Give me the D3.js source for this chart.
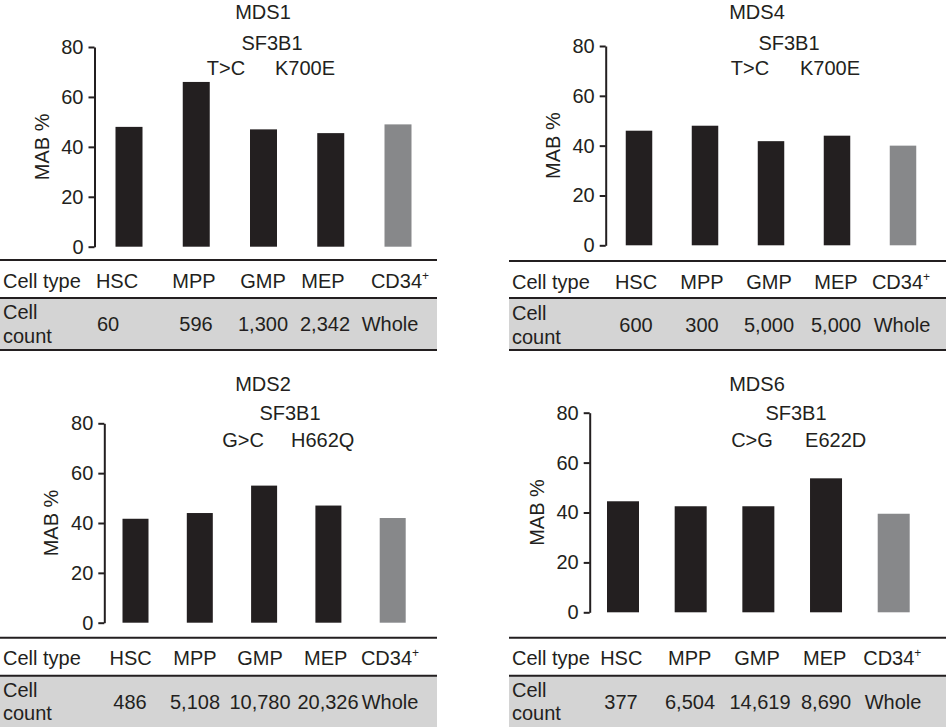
<!DOCTYPE html>
<html lang="en">
<head>
  <meta charset="UTF-8">
  <title>MAB % by cell type</title>
  <script src="https://d3js.org/d3.v7.min.js"></script>
  <style>
    body { margin: 0; background: #fff; }
    svg text { font-family: "Liberation Sans", Arial, sans-serif; font-size: 20px; fill: #231f20; }
    .axis path, .axis line { stroke: #231f20; stroke-width: 2px; }
    .axis text { font-size: 20px; }
    .rule { stroke: #231f20; stroke-width: 2px; }
  </style>
</head>
<body>
  <div id="chart"></div>
  <script>
    // Data
    const cellTypes = ["HSC", "MPP", "GMP", "MEP", "CD34"];
    const titles = ["MDS1", "MDS4", "MDS2", "MDS6"];
    const genes = ["SF3B1", "SF3B1", "SF3B1", "SF3B1"];
    const nucChanges = ["T>C", "T>C", "G>C", "C>G"];
    const aaChanges = ["K700E", "K700E", "H662Q", "E622D"];

    const mabMDS1 = [48, 66, 47, 45.5, 49];
    const mabMDS4 = [46, 48, 41.8, 44, 40];
    const mabMDS2 = [41.7, 44, 55, 47, 42];
    const mabMDS6 = [44.5, 42.5, 42.5, 53.7, 39.5];

    const countsMDS1 = ["60", "596", "1,300", "2,342", "Whole"];
    const countsMDS4 = ["600", "300", "5,000", "5,000", "Whole"];
    const countsMDS2 = ["486", "5,108", "10,780", "20,326", "Whole"];
    const countsMDS6 = ["377", "6,504", "14,619", "8,690", "Whole"];

    const yTicks = [0, 20, 40, 60, 80];

    const values = [mabMDS1, mabMDS4, mabMDS2, mabMDS6];
    const counts = [countsMDS1, countsMDS4, countsMDS2, countsMDS6];

    // layout of each panel (pixels)
    const layout = [
      { axisX: 94.5, y0: 246.7, y80: 47, bars: [129, 398], barW: 27,
        tTop: 260, tMid: 298, tBot: 350, tx0: 0, tx1: 437,
        heads: [117, 194, 263, 323, 400], nums: [108, 196, 263, 325, 390],
        title: [263, 19], gene: [272, 50], muts: [226, 305], mutY: 75 },
      { axisX: 605.7, y0: 245.3, y80: 46, bars: [639, 903], barW: 26.5,
        tTop: 261, tMid: 298, tBot: 350, tx0: 509, tx1: 946,
        heads: [636, 702, 769, 836, 901], nums: [636, 702, 769, 836, 902],
        title: [757, 19], gene: [789, 50], muts: [750, 830], mutY: 75 },
      { axisX: 104.3, y0: 622.7, y80: 423.3, bars: [135.5, 392.7], barW: 26,
        tTop: 637.7, tMid: 675.7, tBot: 740, tx0: 0, tx1: 437,
        heads: [130.7, 195, 260, 325.7, 390], nums: [130, 195, 260, 328, 390],
        title: [263, 391], gene: [290, 420], muts: [243, 322.7], mutY: 447 },
      { axisX: 589.7, y0: 612.3, y80: 412.7, bars: [623, 893.7], barW: 32,
        tTop: 637.7, tMid: 675.7, tBot: 740, tx0: 509, tx1: 946,
        heads: [621.3, 689.7, 757, 824.7, 892.3], nums: [621, 690, 760, 826, 893],
        title: [757, 391], gene: [796, 420], muts: [752, 835.7], mutY: 447 }
    ];

    const W = 946, H = 727;
    const svg = d3.select("#chart").append("svg")
      .attr("width", W)
      .attr("height", H);

    layout.forEach((L, i) => {
      const g = svg.append("g");
      const data = cellTypes.map((c, j) => ({ type: c, value: values[i][j] }));

      const x = d3.scalePoint().domain(cellTypes).range(L.bars);
      const y = d3.scaleLinear().domain([0, 80]).range([L.y0, L.y80]);

      // table background + rules
      g.append("rect")
        .attr("x", L.tx0).attr("y", L.tMid)
        .attr("width", L.tx1 - L.tx0).attr("height", L.tBot - L.tMid)
        .attr("fill", "#d4d4d4");
      [L.tTop, L.tMid, L.tBot].forEach(ry => {
        g.append("line").attr("class", "rule")
          .attr("x1", L.tx0).attr("x2", L.tx1)
          .attr("y1", ry).attr("y2", ry);
      });

      // bars
      g.selectAll(".bar")
        .data(data)
        .enter()
        .append("rect")
        .attr("class", "bar")
        .attr("x", d => x(d.type) - L.barW / 2)
        .attr("width", L.barW)
        .attr("y", d => y(d.value))
        .attr("height", d => y(0) - y(d.value))
        .attr("fill", d => d.type === "CD34" ? "#87888a" : "#231f20");

      // y axis
      g.append("g")
        .attr("class", "axis")
        .attr("transform", `translate(${L.axisX},0)`)
        .call(d3.axisLeft(y).tickValues(yTicks).tickSize(6).tickSizeOuter(0).tickPadding(5))
        .call(a => a.selectAll("text").attr("fill", "#231f20").style("font-family", "Liberation Sans, Arial, sans-serif"));

      g.append("text")
        .attr("transform", `translate(${L.axisX - 53},${(L.y0 + L.y80) / 2}) rotate(-90)`)
        .attr("text-anchor", "middle")
        .attr("dominant-baseline", "central")
        .text("MAB %");

      // titles
      g.append("text").attr("x", L.title[0]).attr("y", L.title[1])
        .attr("text-anchor", "middle").text(titles[i]);
      g.append("text").attr("x", L.gene[0]).attr("y", L.gene[1])
        .attr("text-anchor", "middle").text(genes[i]);
      g.append("text").attr("x", L.muts[0]).attr("y", L.mutY)
        .attr("text-anchor", "middle").text(nucChanges[i]);
      g.append("text").attr("x", L.muts[1]).attr("y", L.mutY)
        .attr("text-anchor", "middle").text(aaChanges[i]);

      // table text
      g.append("text").attr("x", L.tx0 + 3).attr("y", L.tTop + 27.5).text("Cell type");
      g.append("text").attr("x", L.tx0 + 3).attr("y", L.tTop + 59).text("Cell");
      g.append("text").attr("x", L.tx0 + 3).attr("y", L.tTop + 82.5).text("count");

      cellTypes.forEach((c, j) => {
        const t = g.append("text")
          .attr("x", L.heads[j]).attr("y", L.tTop + 27.5)
          .attr("text-anchor", "middle");
        if (c === "CD34") {
          t.append("tspan").text("CD34");
          t.append("tspan").attr("dy", -8).style("font-size", "12px").text("+");
        } else {
          t.text(c);
        }
        g.append("text")
          .attr("x", L.nums[j]).attr("y", L.tTop + 71)
          .attr("text-anchor", "middle")
          .text(counts[i][j]);
      });
    });
  </script>
</body>
</html>
